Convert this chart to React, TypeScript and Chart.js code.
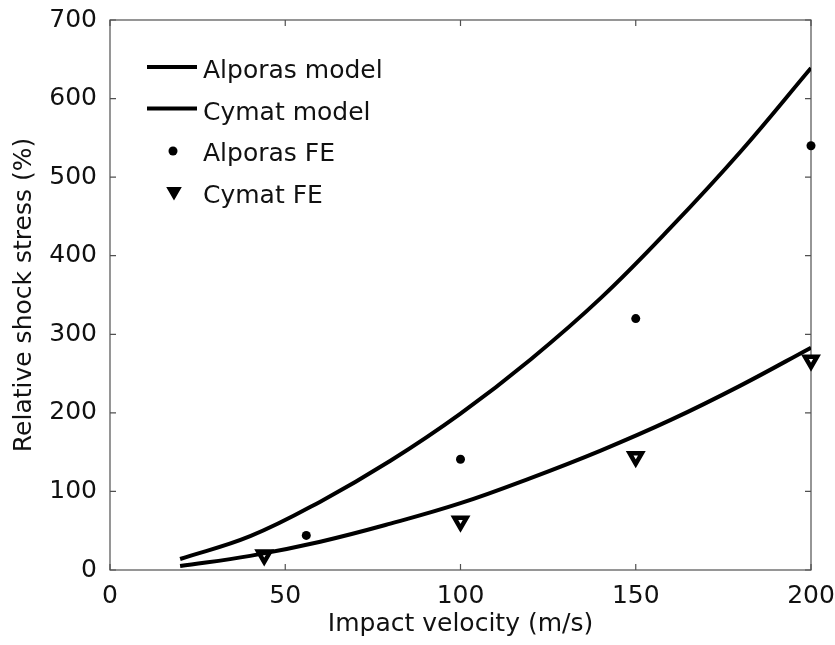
import React, { useEffect, useRef } from 'react';
import { Chart, registerables } from 'chart.js';

Chart.register(...registerables);

// ---- data ----
const modelVelocity = [20, 40, 60, 80, 100, 120, 140, 160, 180, 200];
const alporasModel = [14, 43, 87, 139, 199, 268, 346, 436, 533, 639];
const cymatModel = [5, 18, 36, 59, 85, 117, 152, 191, 235, 283];
const alporasFEVelocity = [56, 100, 150, 200];
const alporasFE = [44, 141, 320, 540];
const cymatFEVelocity = [44, 100, 150, 200];
const cymatFE = [19, 62, 144, 267];

const seriesLabels = ['Alporas model', 'Cymat model', 'Alporas FE', 'Cymat FE'];
const xAxisTitle = 'Impact velocity (m/s)';
const yAxisTitle = 'Relative shock stress (%)';

const FONT = "'DejaVu Sans', 'Liberation Sans', Arial, sans-serif";
const INK = '#111111';

const zip = (xs: number[], ys: number[]) => xs.map((x, i) => ({ x, y: ys[i] }));

const framePlugin = {
  id: 'frameTicks',
  beforeDatasetsDraw(chart: any) {
    const { ctx, chartArea, scales } = chart;
    const { left, right, top, bottom } = chartArea;
    const L = 6;
    ctx.save();
    ctx.strokeStyle = '#505050';
    ctx.lineWidth = 1.2;
    ctx.strokeRect(left, top, right - left, bottom - top);
    ctx.beginPath();
    scales.x.ticks.forEach((t: any) => {
      const px = scales.x.getPixelForValue(t.value);
      ctx.moveTo(px, bottom);
      ctx.lineTo(px, bottom - L);
      ctx.moveTo(px, top);
      ctx.lineTo(px, top + L);
    });
    scales.y.ticks.forEach((t: any) => {
      const py = scales.y.getPixelForValue(t.value);
      ctx.moveTo(left, py);
      ctx.lineTo(left + L, py);
      ctx.moveTo(right, py);
      ctx.lineTo(right - L, py);
    });
    ctx.stroke();
    ctx.restore();
  },
};

const legendPlugin = {
  id: 'insideLegend',
  afterDatasetsDraw(chart: any) {
    const { ctx, chartArea } = chart;
    const x0 = chartArea.left + 37;
    const lineLen = 50;
    const textX = chartArea.left + 93;
    const rowCenters = [49, 90.5, 132, 173.5];
    ctx.save();
    chart.data.datasets.forEach((ds: any, i: number) => {
      const cy = chartArea.top + rowCenters[i];
      if (ds.showLine) {
        ctx.strokeStyle = ds.borderColor;
        ctx.lineWidth = ds.borderWidth;
        ctx.beginPath();
        ctx.moveTo(x0, cy - 2);
        ctx.lineTo(x0 + lineLen, cy - 2);
        ctx.stroke();
      } else if (ds.pointStyle === 'triangle') {
        const r = 7;
        const mx = x0 + 27;
        const my = cy - 2;
        ctx.fillStyle = ds.borderColor;
        ctx.beginPath();
        ctx.moveTo(mx, my + r);
        ctx.lineTo(mx - r * 0.866, my - r * 0.5);
        ctx.lineTo(mx + r * 0.866, my - r * 0.5);
        ctx.closePath();
        ctx.fill();
        ctx.strokeStyle = ds.borderColor;
        ctx.lineWidth = 2;
        ctx.stroke();
      } else {
        ctx.fillStyle = ds.backgroundColor;
        ctx.beginPath();
        ctx.arc(x0 + 26, cy - 1, 4.5, 0, Math.PI * 2);
        ctx.fill();
      }
      ctx.fillStyle = INK;
      ctx.font = `25px ${FONT}`;
      ctx.textAlign = 'left';
      ctx.textBaseline = 'alphabetic';
      ctx.fillText(ds.label, textX, cy + 9);
    });
    ctx.restore();
  },
};

export default function App() {
  const canvasRef = useRef<HTMLCanvasElement | null>(null);

  useEffect(() => {
    if (!canvasRef.current) return;
    const chart = new Chart(canvasRef.current, {
      type: 'scatter',
      data: {
        datasets: [
          {
            label: seriesLabels[0],
            data: zip(modelVelocity, alporasModel),
            showLine: true,
            borderColor: '#000000',
            backgroundColor: '#000000',
            borderWidth: 4,
            pointRadius: 0,
            tension: 0.4,
          },
          {
            label: seriesLabels[1],
            data: zip(modelVelocity, cymatModel),
            showLine: true,
            borderColor: '#000000',
            backgroundColor: '#000000',
            borderWidth: 4,
            pointRadius: 0,
            tension: 0.4,
          },
          {
            label: seriesLabels[2],
            data: zip(alporasFEVelocity, alporasFE),
            showLine: false,
            pointStyle: 'circle',
            pointRadius: 4.5,
            borderWidth: 0,
            borderColor: '#000000',
            backgroundColor: '#000000',
            clip: false,
          },
          {
            label: seriesLabels[3],
            data: zip(cymatFEVelocity, cymatFE),
            showLine: false,
            pointStyle: 'triangle',
            pointRotation: 180,
            pointRadius: 7,
            borderWidth: 4.5,
            borderColor: '#000000',
            backgroundColor: '#ffffff',
            clip: false,
          },
        ],
      } as any,
      options: {
        animation: false,
        responsive: false,
        layout: { padding: { top: 20, right: 24, left: 0, bottom: 0 } },
        plugins: {
          legend: { display: false },
          tooltip: { enabled: false },
        },
        scales: {
          x: {
            type: 'linear',
            min: 0,
            max: 200,
            grid: { display: false, drawTicks: false },
            border: { display: false },
            ticks: {
              stepSize: 50,
              padding: 11,
              color: INK,
              font: { family: FONT, size: 25 },
            },
            title: {
              display: true,
              text: xAxisTitle,
              color: INK,
              font: { family: FONT, size: 25 },
              padding: { top: 0, bottom: 6 },
            },
            afterFit: (s: any) => {
              s.height = 75;
              s.paddingLeft = 0;
              s.paddingRight = 0;
            },
          },
          y: {
            type: 'linear',
            min: 0,
            max: 700,
            grid: { display: false, drawTicks: false },
            border: { display: false },
            ticks: {
              stepSize: 100,
              padding: 13,
              color: INK,
              font: { family: FONT, size: 25 },
            },
            title: {
              display: true,
              text: yAxisTitle,
              color: INK,
              font: { family: FONT, size: 25 },
              padding: { top: 9, bottom: 0 },
            },
            afterFit: (s: any) => {
              s.width = 110;
              s.paddingTop = 0;
              s.paddingBottom = 0;
            },
          },
        },
      } as any,
      plugins: [framePlugin, legendPlugin],
    });
    return () => chart.destroy();
  }, []);

  return (
    <div style={{ position: 'fixed', left: 0, top: 0, width: 835, height: 645, background: '#ffffff' }}>
      <canvas ref={canvasRef} width={835} height={645} style={{ display: 'block' }} />
    </div>
  );
}
